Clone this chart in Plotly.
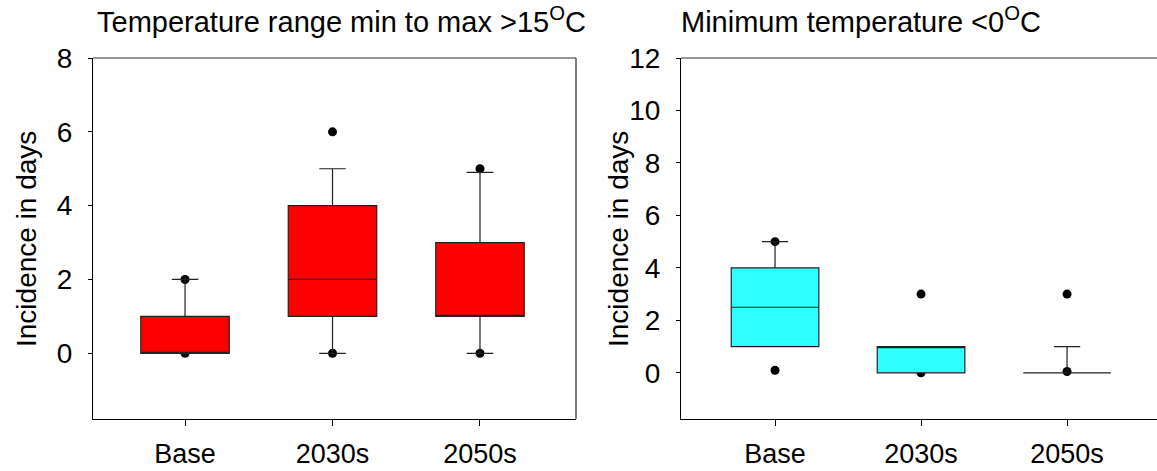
import plotly.graph_objects as go

categories = ["Base", "2030s", "2050s"]

# Left panel: Temperature range min to max >15 C
left_q1 = [0, 1, 1]
left_median = [0, 2, 1]
left_q3 = [1, 4, 3]
left_lower = [0, 0, 0]
left_upper = [2, 5, 4.9]
left_dots_x = ["Base", "Base", "2030s", "2030s", "2050s", "2050s"]
left_dots_y = [2, 0, 6, 0, 5, 0]

# Right panel: Minimum temperature <0 C
right_q1 = [1, 0, 0]
right_median = [2.5, 1, 0]
right_q3 = [4, 1, 0]
right_lower = [1, 0, 0]
right_upper = [5, 1, 1]
right_dots_x = ["Base", "Base", "2030s", "2030s", "2050s", "2050s"]
right_dots_y = [5, 0.1, 3, 0, 3, 0.05]

left_ticks = [0, 2, 4, 6, 8]
right_ticks = [0, 2, 4, 6, 8, 10, 12]

W, H = 1157, 471
FONT = "Liberation Sans, Arial, sans-serif"

fig = go.Figure()

def add_panel(xa, ya, q1, med, q3, lo, up, dx, dy, fill):
    # dots first (drawn underneath boxes)
    fig.add_trace(go.Box(
        x=dx, y=dy, boxpoints="all", jitter=0, pointpos=0,
        marker=dict(color="black", size=9),
        line=dict(width=0), fillcolor="rgba(0,0,0,0)",
        showlegend=False, xaxis=xa, yaxis=ya, hoverinfo="y",
    ))
    fig.add_trace(go.Box(
        x=categories, q1=q1, median=med, q3=q3,
        lowerfence=lo, upperfence=up,
        boxpoints=False, width=0.6, whiskerwidth=0.3,
        fillcolor=fill, line=dict(color="#222222", width=1.2),
        showlegend=False, xaxis=xa, yaxis=ya,
    ))

add_panel("x", "y", left_q1, left_median, left_q3, left_lower, left_upper,
          left_dots_x, left_dots_y, "#FF0000")
add_panel("x2", "y2", right_q1, right_median, right_q3, right_lower, right_upper,
          right_dots_x, right_dots_y, "#30FFFF")

def px_x(p):
    return p / W

def px_y(p):
    return 1 - p / H

xd1 = [px_x(93), px_x(576)]
xd2 = [px_x(681), 1.0]
yd = [px_y(419), px_y(58)]

common_x = dict(type="category", showgrid=False, zeroline=False, showline=True,
                linecolor="black", linewidth=1.2, ticks="outside", ticklen=6,
                tickcolor="black", tickfont=dict(size=27, color="black", family=FONT),
                ticklabelstandoff=4, automargin=False)
common_y = dict(showgrid=False, zeroline=False, showline=True,
                linecolor="black", linewidth=1.2, ticks="outside", ticklen=4,
                tickcolor="black", tickfont=dict(size=28, color="black", family=FONT),
                ticklabelstandoff=10, automargin=False)

fig.update_layout(
    width=W, height=H,
    margin=dict(l=0, r=0, t=0, b=0),
    paper_bgcolor="white", plot_bgcolor="white",
    boxmode="overlay",
    xaxis=dict(domain=xd1, range=[-0.624, 2.651], anchor="y", **common_x),
    yaxis=dict(domain=yd, range=[-1.78, 8], tickvals=left_ticks, anchor="x", **common_y),
    xaxis2=dict(domain=xd2, range=[-0.644, 2.616], anchor="y2", **common_x),
    yaxis2=dict(domain=yd, range=[-1.76, 12], tickvals=right_ticks, anchor="x2", **common_y),
    shapes=[
        dict(type="line", xref="paper", yref="paper", x0=xd1[0], x1=xd1[1], y0=yd[1], y1=yd[1],
             line=dict(color="#333333", width=1.2)),
        dict(type="line", xref="paper", yref="paper", x0=xd1[1], x1=xd1[1], y0=yd[0], y1=yd[1],
             line=dict(color="#555555", width=1.5)),
        dict(type="line", xref="paper", yref="paper", x0=xd2[0], x1=xd2[1], y0=yd[1], y1=yd[1],
             line=dict(color="#333333", width=1.2)),
    ],
    annotations=[
        dict(text="Temperature range min to max >15<sup>O</sup>C", xref="paper", yref="paper",
             x=px_x(95), y=px_y(40), xanchor="left", yanchor="bottom", showarrow=False,
             font=dict(size=29, color="black", family=FONT)),
        dict(text="Minimum temperature <0<sup>O</sup>C", xref="paper", yref="paper",
             x=px_x(679), y=px_y(40), xanchor="left", yanchor="bottom", showarrow=False,
             font=dict(size=29, color="black", family=FONT)),
        dict(text="Incidence in days", xref="paper", yref="paper",
             x=px_x(26), y=px_y(239), xanchor="center", yanchor="middle", textangle=-90,
             showarrow=False, font=dict(size=28, color="black", family=FONT)),
        dict(text="Incidence in days", xref="paper", yref="paper",
             x=px_x(618), y=px_y(239), xanchor="center", yanchor="middle", textangle=-90,
             showarrow=False, font=dict(size=28, color="black", family=FONT)),
    ],
)

fig.write_html("out.html")
